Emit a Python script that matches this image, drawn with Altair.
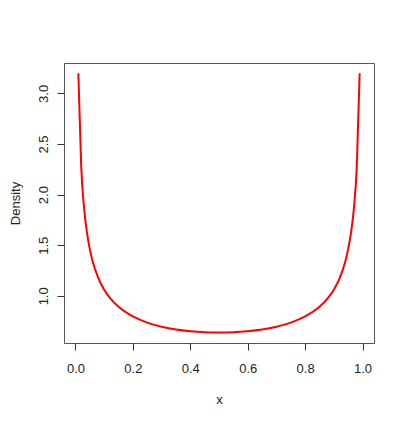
import altair as alt
import pandas as pd

x_left = [0.01, 0.02, 0.03, 0.04, 0.05, 0.06, 0.08, 0.10, 0.12, 0.15, 0.20, 0.25, 0.30, 0.35, 0.40, 0.45, 0.50]
dens_left = [3.199, 2.274, 1.866, 1.624, 1.461, 1.340, 1.173, 1.061, 0.980, 0.891, 0.796, 0.735, 0.695, 0.667, 0.650, 0.640, 0.637]

xs = x_left + [round(1 - v, 2) for v in reversed(x_left[:-1])]
ys = dens_left + list(reversed(dens_left[:-1]))
df = pd.DataFrame({"x": xs, "Density": ys})

x_ticks = [0.0, 0.2, 0.4, 0.6, 0.8, 1.0]
y_ticks = [1.0, 1.5, 2.0, 2.5, 3.0]

font = "Liberation Sans"

chart = alt.Chart(df).mark_line(color="#ff0000", strokeWidth=2, interpolate="monotone").encode(
    x=alt.X("x:Q", scale=alt.Scale(domain=[-0.04, 1.04], nice=False, zero=False),
            axis=alt.Axis(values=x_ticks, format=".1f", grid=False, domain=False,
                          tickSize=7, tickColor="#333", labelPadding=12, labelFontSize=13,
                          labelColor="#222", labelFont=font, title="x", titleFont=font,
                          titleFontSize=13, titleFontWeight="normal", titleColor="#222",
                          titlePadding=18)),
    y=alt.Y("Density:Q", scale=alt.Scale(domain=[0.534, 3.30], nice=False, zero=False),
            axis=alt.Axis(values=y_ticks, format=".1f", grid=False, domain=False,
                          tickSize=7, tickColor="#333", labelPadding=7, labelFontSize=13,
                          labelColor="#222", labelFont=font, labelAngle=270,
                          labelAlign="center", labelBaseline="bottom",
                          title="Density", titleFont=font, titleFontSize=13,
                          titleFontWeight="normal", titleColor="#222", titlePadding=15)),
    order=alt.Order("x:Q"),
).properties(
    width=310, height=280,
    autosize=alt.AutoSizeParams(type="none"),
    padding={"left": 56, "top": 55, "right": 25, "bottom": 72},
).configure_view(stroke="#555", strokeWidth=1)

chart.save("out.html", embed_options={"renderer": "svg", "actions": False})
